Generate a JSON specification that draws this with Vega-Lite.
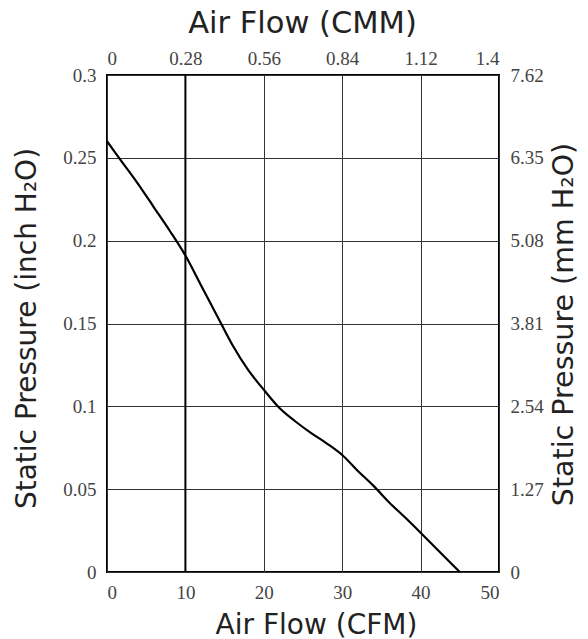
{
  "$schema": "https://vega.github.io/schema/vega-lite/v6.json",
  "width": 392,
  "height": 497,
  "autosize": {"type": "none"},
  "padding": {"left": 107, "top": 75, "right": 89, "bottom": 67},
  "background": "white",
  "config": {
    "view": {"stroke": "black", "strokeWidth": 2}
  },
  "data": {
    "values": [
      {"cfm": 0, "inch": 0.26},
      {"cfm": 2, "inch": 0.247},
      {"cfm": 4, "inch": 0.234},
      {"cfm": 6, "inch": 0.22},
      {"cfm": 8, "inch": 0.206},
      {"cfm": 10, "inch": 0.191},
      {"cfm": 12, "inch": 0.173},
      {"cfm": 14, "inch": 0.155},
      {"cfm": 16, "inch": 0.137},
      {"cfm": 18, "inch": 0.122},
      {"cfm": 20, "inch": 0.11},
      {"cfm": 22, "inch": 0.099},
      {"cfm": 24, "inch": 0.091},
      {"cfm": 26, "inch": 0.084},
      {"cfm": 28, "inch": 0.0777},
      {"cfm": 30, "inch": 0.0706},
      {"cfm": 32, "inch": 0.061},
      {"cfm": 34, "inch": 0.052},
      {"cfm": 36, "inch": 0.042},
      {"cfm": 38, "inch": 0.033},
      {"cfm": 40, "inch": 0.0237},
      {"cfm": 42, "inch": 0.0142},
      {"cfm": 44, "inch": 0.0047},
      {"cfm": 45, "inch": 0}
    ]
  },
  "layer": [
    {
      "mark": {"type": "line", "color": "black", "strokeWidth": 2.2, "interpolate": "monotone"},
      "encoding": {
        "x": {
          "field": "cfm", "type": "quantitative",
          "scale": {"domain": [0, 50], "nice": false, "zero": false},
          "axis": {"orient": "bottom", "title": "Air Flow (CFM)", "values": [0, 10, 20, 30, 40, 50], "grid": true, "gridColor": "#333", "gridOpacity": 1, "gridWidth": 1, "ticks": false, "domain": false,
            "labelFont": "Liberation Serif", "labelFontSize": 19, "labelColor": "#444", "labelPadding": 11,
            "titleFont": "DejaVu Sans", "titleFontSize": 28, "titleFontWeight": "normal", "titleColor": "#222",
            "titleX": 209, "titleY": 61, "titleBaseline": "alphabetic", "titleAlign": "center"}
        },
        "y": {
          "field": "inch", "type": "quantitative",
          "scale": {"domain": [0, 0.3], "nice": false},
          "axis": {"orient": "left", "title": "Static Pressure (inch H₂O)", "values": [0, 0.05, 0.1, 0.15, 0.2, 0.25, 0.3], "format": "~g", "grid": true, "gridColor": "#333", "gridOpacity": 1, "gridWidth": 1, "ticks": false, "domain": false,
            "labelFont": "Liberation Serif", "labelFontSize": 19, "labelColor": "#444", "labelPadding": 11,
            "titleFont": "DejaVu Sans", "titleFontSize": 28, "titleFontWeight": "normal", "titleColor": "#222",
            "titleX": -72, "titleY": 253, "titleAngle": 270, "titleBaseline": "alphabetic", "titleAlign": "center"}
        }
      }
    },
    {
      "mark": {"type": "line", "opacity": 0},
      "encoding": {
        "x": {
          "field": "cfm", "type": "quantitative",
          "axis": {"orient": "top", "title": "Air Flow (CMM)", "values": [0, 10, 20, 30, 40, 50], "labelExpr": "format(datum.value * 0.028, '.3~g')", "grid": false, "ticks": false, "domain": false,
            "labelFont": "Liberation Serif", "labelFontSize": 19, "labelColor": "#444", "labelPadding": 7,
            "titleFont": "DejaVu Sans", "titleFontSize": 30.5, "titleFontWeight": "normal", "titleColor": "#222",
            "titleX": 195, "titleY": -43, "titleBaseline": "alphabetic", "titleAlign": "center"}
        },
        "y": {
          "field": "inch", "type": "quantitative",
          "axis": {"orient": "right", "title": "Static Pressure (mm H₂O)", "values": [0, 0.05, 0.1, 0.15, 0.2, 0.25, 0.3], "labelExpr": "format(datum.value * 25.4, '.3~g')", "grid": false, "ticks": false, "domain": false,
            "labelFont": "Liberation Serif", "labelFontSize": 19, "labelColor": "#444", "labelPadding": 11,
            "titleFont": "DejaVu Sans", "titleFontSize": 28.5, "titleFontWeight": "normal", "titleColor": "#222",
            "titleX": 73, "titleY": 249, "titleAngle": 270, "titleBaseline": "alphabetic", "titleAlign": "center"}
        }
      }
    },
    {
      "data": {"values": [{"cfm": 10}]},
      "mark": {"type": "rule", "color": "black", "strokeWidth": 2},
      "encoding": {
        "x": {"field": "cfm", "type": "quantitative", "axis": null}
      }
    }
  ],
  "resolve": {"axis": {"x": "independent", "y": "independent"}}
}
